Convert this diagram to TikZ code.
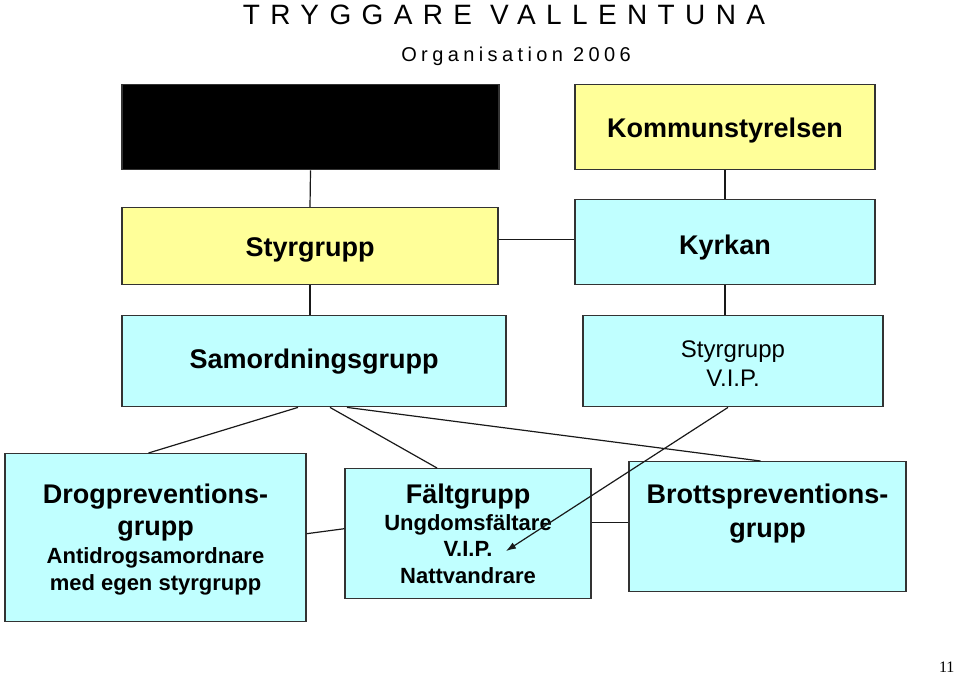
\documentclass[tikz,border=0pt]{standalone}
\usepackage{fontspec}
\setmainfont{Liberation Sans}
\newfontfamily\titlefont[LetterSpace=37]{Liberation Sans}
\newfontfamily\subtitlefont[LetterSpace=22]{Liberation Sans}
\newfontfamily\pagefont{Liberation Serif}
\usetikzlibrary{arrows.meta,positioning,calc}
\definecolor{paleyellow}{RGB}{255,255,153}
\definecolor{palecyan}{RGB}{192,255,255}
\tikzset{
    box/.style ={draw=black!80, line width=1.4pt, inner sep=0pt, anchor=north,
                 align=center, font=\bfseries\fontsize{27}{32}\selectfont},
    yellowbox/.style = {box, fill=paleyellow},
    cyanbox/.style = {box, fill=palecyan},
    link/.style = {draw=black!90, line width=1.2pt}
}

\begin{document}
\begin{tikzpicture}[x=1pt,y=-1pt]
    \useasboundingbox (0,0) rectangle (960,674);

    % titles
    \node[anchor=base] (title) at (504,25) {\titlefont\fontsize{28}{32}\selectfont TRYGGARE VALLENTUNA};
    \node[anchor=base] (subtitle) at (516,62) {\subtitlefont\fontsize{20}{24}\selectfont Organisation 2006};

    % top row
    \node[box, fill=black, minimum width=377pt, minimum height=85pt] (board) at (310.5,84) {};
    \node[yellowbox, minimum width=300pt, text height=53pt, text depth=32pt] (komm) at (725,84) {Kommunstyrelsen};

    % second row
    \node[yellowbox, minimum width=376pt, text height=49pt, text depth=28pt] (styr) at (310,207) {Styrgrupp};
    \node[cyanbox, minimum width=300pt, text height=55pt, text depth=30pt] (kyrk) at (725,199) {Kyrkan};

    % third row
    \node[cyanbox, minimum width=384pt, text height=53pt, text depth=38pt] (samo) at (314,315) {Samordningsgrupp};
    \node[cyanbox, minimum width=300pt, text height=71pt, text depth=20pt,
          font=\fontsize{24}{29}\selectfont] (vip) at (733,315) {Styrgrupp\\V.I.P.};

    % bottom row
    \node[cyanbox, minimum width=301pt, text height=137pt, text depth=31pt] (drog) at (155.5,453)
        {Drogpreventions-\\grupp\\[-4pt]{\fontsize{22}{27}\selectfont Antidrogsamordnare}\\[-5pt]{\fontsize{22}{27}\selectfont med egen styrgrupp}};
    \node[cyanbox, minimum width=246pt, text height=115pt, text depth=15pt] (falt) at (468,468)
        {F\"altgrupp\\[-5pt]{\fontsize{22}{27}\selectfont Ungdomsf\"altare}\\[-6pt]{\fontsize{22}{27}\selectfont V.I.P.}\\[-5pt]{\fontsize{22}{27}\selectfont Nattvandrare}};
    \node[cyanbox, minimum width=277pt, text height=76pt, text depth=54pt] (brott) at (767.5,461)
        {Brottspreventions-\\[2pt]grupp};
    \coordinate (vipend) at (506,551);

    % connectors
    \path[link] (board.south) -- (styr.north);
    \path[link] (komm.south) -- (kyrk.north);
    \path[link] ([yshift=7pt]styr.east) -- ([yshift=7pt]styr.east -| kyrk.west);
    \path[link] (styr.south) -- (styr.south |- samo.north);
    \path[link] (kyrk.south) -- (kyrk.south |- vip.north);
    \path[link] ([xshift=-16pt]samo.south) -- ([xshift=-7pt]drog.north);
    \path[link] ([xshift=16pt]samo.south) -- ([xshift=-31pt]falt.north);
    \path[link] ([xshift=33pt]samo.south) -- ([xshift=-7pt]brott.north);
    \path[link] ([yshift=4pt]drog.east) -- ([yshift=5pt]falt.west);
    \path[link] ([yshift=11pt]falt.east) -- ([yshift=11pt]falt.east -| brott.west);
    \path[link, -{Latex[length=10pt,width=7pt]}] ([xshift=-5pt]vip.south) -- (vipend);

    % page number
    \node[anchor=base east, font=\pagefont\fontsize{16}{18}\selectfont] (pageno) at (958,672) {11};
\end{tikzpicture}
\end{document}
